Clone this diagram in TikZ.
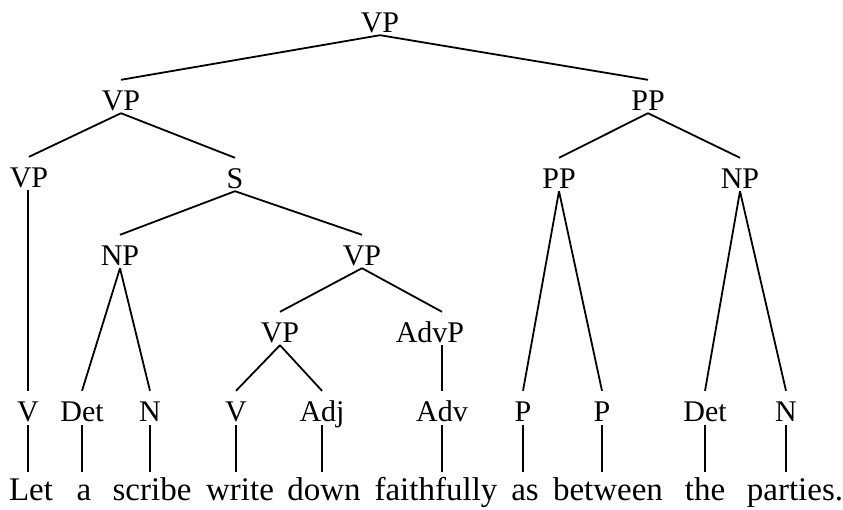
\documentclass[tikz,border=0pt]{standalone}
\usepackage{fontspec}
\setmainfont{Liberation Serif}
\usetikzlibrary{calc}
\begin{document}
\begin{tikzpicture}[x=1pt,y=-1pt,
  lab/.style={anchor=base,inner sep=0pt,text height=20pt,text depth=0pt,font=\fontsize{30}{36}\selectfont},
  wrd/.style={anchor=base,inner sep=0pt,text height=22pt,text depth=0pt,font=\fontsize{33}{40}\selectfont},
  br/.style={line width=1.8pt,to path={($(\tikztostart)+(0,3)$) -- ($(\tikztotarget)+(0,-10)$)}},
  lk/.style={line width=1.8pt,to path={($(\tikztostart)+(0,4)$) -- ($(\tikztotarget)+(0,-6)$)}}]
\useasboundingbox (0,0) rectangle (843,509);
% labels
\node[lab] (vp0) at (380,32) {VP};
\node[lab] (vp1) at (121,110) {VP};
\node[lab] (pp1) at (648,110) {PP};
\node[lab] (vp2) at (29,187) {VP};
\node[lab] (s) at (235,188) {S};
\node[lab] (pp2) at (559,188) {PP};
\node[lab] (np2) at (740,188) {NP};
\node[lab] (np3) at (120,265) {NP};
\node[lab] (vp3) at (362,265) {VP};
\node[lab] (vp4) at (280,342) {VP};
\node[lab] (advp) at (430,342) {AdvP};
\node[lab] (v1) at (28,421) {V};
\node[lab] (det1) at (82,421) {Det};
\node[lab] (n1) at (150,421) {N};
\node[lab] (v2) at (236,421) {V};
\node[lab] (adj) at (322,421) {Adj};
\node[lab] (adv) at (442,421) {Adv};
\node[lab] (p1) at (523,421) {P};
\node[lab] (p2) at (602,421) {P};
\node[lab] (det2) at (705,421) {Det};
\node[lab] (n2) at (786,421) {N};
% words
\node[wrd] (w1) at (31,500) {Let};
\node[wrd] (w2) at (84,500) {a};
\node[wrd] (w3) at (152,500) {scribe};
\node[wrd] (w4) at (240,500) {write};
\node[wrd] (w5) at (324,500) {down};
\node[wrd] (w6) at (436,500) {faithfully};
\node[wrd] (w7) at (525,500) {as};
\node[wrd] (w8) at (608,500) {between};
\node[wrd] (w9) at (705,500) {the};
\node[wrd] (w10) at (795,500) {parties.};
% branches
\draw[br] (vp0.south) to (vp1.north);
\draw[br] (vp0.south) to (pp1.north);
\draw[br] (vp1.south) to (vp2.north);
\draw[br] (vp1.south) to (s.north);
\draw[br] (s.south) to (np3.north);
\draw[br] (s.south) to (vp3.north);
\draw[br] (np3.south) to (det1.north);
\draw[br] (np3.south) to (n1.north);
\draw[br] (vp3.south) to (vp4.north);
\draw[br] (vp3.south) to (adv.north |- advp.north);
\draw[br] (vp4.south) to (v2.north);
\draw[br] (vp4.south) to (adj.north);
\draw[br] (adv.north |- advp.south) to (adv.north);
\draw[br] (v1.north |- vp2.south) to (v1.north);
\draw[br] (pp1.south) to (pp2.north);
\draw[br] (pp1.south) to (np2.north);
\draw[br] (pp2.south) to (p1.north);
\draw[br] (pp2.south) to (p2.north);
\draw[br] (np2.south) to (det2.north);
\draw[br] (np2.south) to (n2.north);
% lexical links
\draw[lk] (v1.south) to (v1.south |- w1.north);
\draw[lk] (det1.south) to (det1.south |- w2.north);
\draw[lk] (n1.south) to (n1.south |- w3.north);
\draw[lk] (v2.south) to (v2.south |- w4.north);
\draw[lk] (adj.south) to (adj.south |- w5.north);
\draw[lk] (adv.south) to (adv.south |- w6.north);
\draw[lk] (p1.south) to (p1.south |- w7.north);
\draw[lk] (p2.south) to (p2.south |- w8.north);
\draw[lk] (det2.south) to (det2.south |- w9.north);
\draw[lk] (n2.south) to (n2.south |- w10.north);
\end{tikzpicture}
\end{document}
